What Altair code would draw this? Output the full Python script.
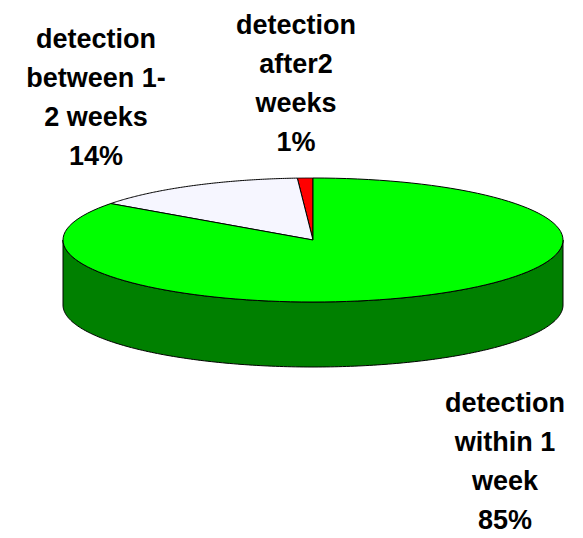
import numpy as np
import pandas as pd
import altair as alt

# slices, counter-clockwise from 12 o'clock
slices = ["after2 weeks", "between 1-2 weeks", "within 1 week"]
shares = [1, 14, 85]
top_colors = ["#ff0000", "#f6f6ff", "#00ff00"]
side_color = "#008000"

label_lines = [
    ["detection", "after2", "weeks", "1%"],
    ["detection", "between 1-", "2 weeks", "14%"],
    ["detection", "within 1", "week", "85%"],
]
label_anchor = [(296, 26), (96, 40), (505, 404)]

cx, cy, rx, ry, depth = 313, 240, 250, 62, 65

rows = []
start = 0.0
for name, s in zip(slices, shares):
    a = np.radians(np.linspace(start, start + s * 3.6, 120))
    pts = [(cx, cy)] + list(zip(cx - rx * np.sin(a), cy - ry * np.cos(a))) + [(cx, cy)]
    for i, (x, y) in enumerate(pts):
        rows.append({"part": name, "x": x, "y": y, "o": i})
    start += s * 3.6

a = np.radians(np.linspace(90, 270, 200))
upper = list(zip(cx - rx * np.sin(a), cy - ry * np.cos(a)))
lower = [(x, y + depth) for x, y in upper[::-1]]
for i, (x, y) in enumerate(upper + lower + upper[:1]):
    rows.append({"part": "side", "x": x, "y": y, "o": i})
df = pd.DataFrame(rows)

xs = alt.Scale(domain=[8, 575])
ys = alt.Scale(domain=[8, 530], reverse=True)

def poly(part, color):
    return alt.Chart(df).transform_filter(alt.datum.part == part).mark_line(
        fill=color, stroke="black", strokeWidth=1
    ).encode(
        x=alt.X("x:Q", scale=xs, axis=None),
        y=alt.Y("y:Q", scale=ys, axis=None),
        order="o:Q",
    )

layers = [poly("side", side_color)]
for name, c in zip(slices, top_colors):
    layers.append(poly(name, c))

lab = []
for lines, (lx, ly) in zip(label_lines, label_anchor):
    for k, t in enumerate(lines):
        lab.append({"x": lx, "y": ly + k * 39, "t": t})
labels = alt.Chart(pd.DataFrame(lab)).mark_text(
    font="Liberation Sans", fontWeight="bold", fontSize=27, color="black"
).encode(x=alt.X("x:Q", scale=xs), y=alt.Y("y:Q", scale=ys), text="t:N")

chart = alt.layer(*layers, labels).properties(
    width=567, height=522, padding=0
).configure_view(stroke=None)

chart.save("out.html", embed_options={"renderer": "svg", "actions": False})
